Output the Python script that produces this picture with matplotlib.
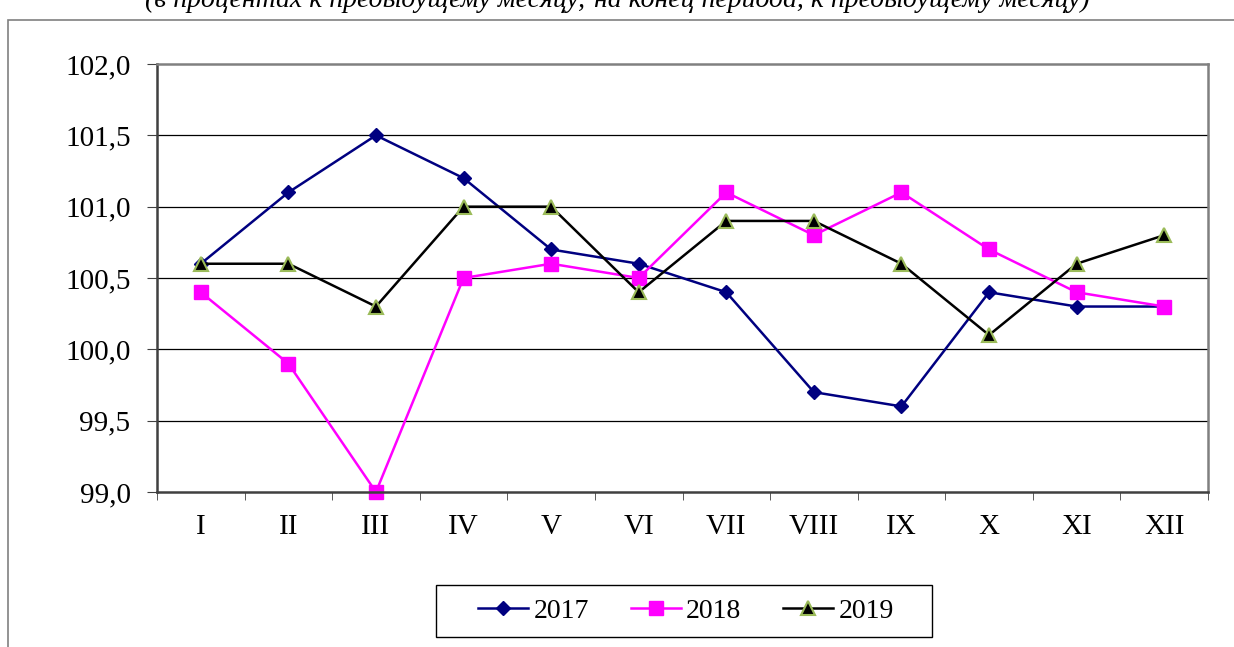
import numpy as np
import matplotlib
matplotlib.use('Agg')
import matplotlib.pyplot as plt
from matplotlib.patches import Rectangle

plt.rcParams['font.family'] = ['Liberation Serif', 'DejaVu Serif']

months = ['I', 'II', 'III', 'IV', 'V', 'VI', 'VII', 'VIII', 'IX', 'X', 'XI', 'XII']
y2017 = [100.6, 101.1, 101.5, 101.2, 100.7, 100.6, 100.4, 99.7, 99.6, 100.4, 100.3, 100.3]
y2018 = [100.4, 99.9, 99.0, 100.5, 100.6, 100.5, 101.1, 100.8, 101.1, 100.7, 100.4, 100.3]
y2019 = [100.6, 100.6, 100.3, 101.0, 101.0, 100.4, 100.9, 100.9, 100.6, 100.1, 100.6, 100.8]
yticks = [99.0, 99.5, 100.0, 100.5, 101.0, 101.5, 102.0]

W, H = 1234, 647
fig = plt.figure(figsize=(W/100, H/100), dpi=100)

# outer chart frame (goes past the right and bottom edges)
fig.patches.append(Rectangle((8/W, -0.1), 1.2, 1 - 20/H + 0.1, transform=fig.transFigure,
                             fill=False, edgecolor='#808080', lw=1.2))
# caption line above the chart, cut by the top edge as in the source
fig.text(0.5, 1 - 7/H, '(в процентах к предыдущему месяцу; на конец периода, к предыдущему месяцу)',
         ha='center', va='baseline', fontsize=20, style='italic')

ax = fig.add_axes([157/W, 1 - 492/H, (1208-157)/W, (492-64)/H])
x = np.arange(len(months))

ax.plot(x, y2017, color='#000080', lw=1.8, marker='D', ms=7, label='2017')
ax.plot(x, y2018, color='#FF00FF', lw=1.8, marker='s', ms=10, label='2018')
ax.plot(x, y2019, color='black', lw=1.8, marker='^', ms=10, mfc='black',
        mec='#9BBB59', mew=1.5, label='2019')

ax.set_xlim(-0.5, len(months) - 0.5)
ax.set_ylim(99.0, 102.0)
ax.set_yticks(yticks)
ax.set_yticklabels([('%.1f' % v).replace('.', ',') for v in yticks], fontsize=21)
ax.set_xticks(x)
ax.set_xticklabels(months, fontsize=21)
ax.set_xticks(np.arange(-0.5, len(months)), minor=True)
ax.tick_params(axis='x', which='major', length=0, pad=16)
ax.tick_params(axis='x', which='minor', length=6, direction='out', color='#404040')
ax.tick_params(axis='y', length=7, direction='out', pad=12, color='#404040')

for v in yticks[1:-1]:
    ax.axhline(v, color='black', lw=0.9, zorder=0)

for s in ['top', 'right']:
    ax.spines[s].set_color('#808080')
    ax.spines[s].set_linewidth(1.8)
for s in ['left', 'bottom']:
    ax.spines[s].set_color('#404040')
    ax.spines[s].set_linewidth(1.8)

for line in ax.get_lines():
    line.set_clip_on(False)

# legend box drawn by hand, legend itself without frame
fig.patches.append(Rectangle((436/W, 1 - 637/H), (932-436)/W, (637-585)/H,
                             transform=fig.transFigure, fill=False, edgecolor='black', lw=1.0))
leg = fig.legend(loc='center', bbox_to_anchor=(686/W, 1 - 611/H), ncol=3, fontsize=20,
                 frameon=False, handlelength=1.8, handletextpad=0.2, columnspacing=1.5,
                 borderpad=0, borderaxespad=0)

fig.savefig('out.png', dpi=100)
